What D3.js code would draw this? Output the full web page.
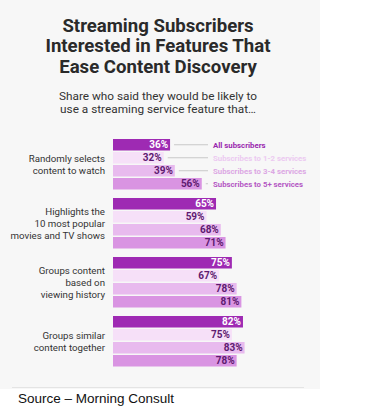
<!DOCTYPE html>
<html>
<head>
<meta charset="utf-8">
<script src="https://cdn.jsdelivr.net/npm/d3@7"></script>
<style>
  body { margin: 0; background: #fff; }
  #chart { width: 367px; height: 413px; }
</style>
</head>
<body>
<div id="chart"></div>
<script>

// data
const categories = [
	["Randomly selects", "content to watch"],
	["Highlights the", "10 most popular", "movies and TV shows"],
	["Groups content", "based on", "viewing history"],
	["Groups similar", "content together"]
];
const seriesNames = ["All subscribers", "Subscribes to 1-2 services", "Subscribes to 3-4 services", "Subscribes to 5+ services"];
const allSubs = [36, 65, 75, 82];
const subs12 = [32, 59, 67, 75];
const subs34 = [39, 68, 78, 83];
const subs5 = [56, 71, 81, 78];

const barColors = ["#9e2ab3", "#f6e0f8", "#e8baee", "#d994e2"];
const legendColors = ["#9a27ae", "#eccaf1", "#dca8e4", "#b458c4"];

const width = 367;
const height = 413;

let svg = d3.select("#chart")
	.append("svg")
	.attr("width", width)
	.attr("height", height);

//light panel
svg.append("rect")
	.attr("x", 0).attr("y", 0)
	.attr("width", 320).attr("height", 389)
	.attr("fill", "#f7f7f7");

svg.append("line")
	.attr("x1", 12).attr("x2", 304)
	.attr("y1", 387.5).attr("y2", 387.5)
	.attr("stroke", "#e4e4e4")
	.attr("stroke-width", 1);

//title
const titleLines = ["Streaming Subscribers", "Interested in Features That", "Ease Content Discovery"];
svg.append("text")
	.attr("text-anchor", "middle")
	.attr("font-family", "Roboto")
	.attr("font-weight", "bold")
	.attr("font-size", 18.6)
	.attr("fill", "#2a2a2a")
	.selectAll("tspan")
	.data(titleLines)
	.enter().append("tspan")
	.attr("x", 158)
	.attr("y", (d, i) => 32 + i * 20.3)
	.text(d => d);

const subLines = ["Share who said they would be likely to", "use a streaming service feature that…"];
svg.append("text")
	.attr("text-anchor", "middle")
	.attr("font-family", "Roboto")
	.attr("font-size", 11.8)
	.attr("fill", "#333")
	.selectAll("tspan")
	.data(subLines)
	.enter().append("tspan")
	.attr("x", 158)
	.attr("y", (d, i) => 100 + i * 12.6)
	.text(d => d);

//scales
let x = d3.scaleLinear()
	.domain([0, 100])
	.range([113, 113 + 158.5]);

let y0 = d3.scaleBand()
	.domain(d3.range(categories.length))
	.range([139, 139 + 59 * categories.length]);

let y1 = d3.scaleBand()
	.domain(d3.range(seriesNames.length))
	.range([0, 50.5])
	.paddingInner(0.115);

const series = [allSubs, subs12, subs34, subs5];

let rows = [];
categories.forEach((c, gi) => {
	series.forEach((s, si) => {
		rows.push({ g: gi, s: si, v: s[gi] });
	});
});

let bars = svg.append("g");

bars.selectAll("rect")
	.data(rows)
	.enter().append("rect")
	.attr("x", x(0))
	.attr("y", d => y0(d.g) + y1(d.s))
	.attr("width", d => x(d.v) - x(0))
	.attr("height", y1.bandwidth())
	.attr("fill", d => barColors[d.s]);

bars.selectAll("text")
	.data(rows)
	.enter().append("text")
	.attr("x", d => x(d.v) - 2)
	.attr("y", d => y0(d.g) + y1(d.s) + y1.bandwidth() / 2 + 3.5)
	.attr("text-anchor", "end")
	.attr("font-family", "Roboto")
	.attr("font-weight", "bold")
	.attr("font-size", 10)
	.attr("fill", d => d.s == 0 ? "#fff" : "#5e1a70")
	.text(d => d.v + "%");

//legend on first group
let legend = svg.append("g");
let first = rows.filter(d => d.g == 0);

legend.selectAll("line")
	.data(first)
	.enter().append("line")
	.attr("x1", d => x(d.v) + 4)
	.attr("x2", 208)
	.attr("y1", d => y0(0) + y1(d.s) + y1.bandwidth() / 2)
	.attr("y2", d => y0(0) + y1(d.s) + y1.bandwidth() / 2)
	.attr("stroke", "#c8c8c8")
	.attr("stroke-width", 1);

legend.selectAll("text")
	.data(first)
	.enter().append("text")
	.attr("x", 213)
	.attr("y", d => y0(0) + y1(d.s) + y1.bandwidth() / 2 + 3)
	.attr("font-family", "Roboto")
	.attr("font-weight", "bold")
	.attr("font-size", 7.8)
	.attr("fill", d => legendColors[d.s])
	.text(d => seriesNames[d.s]);

//category labels
let cats = svg.append("g");
cats.selectAll("text")
	.data(categories)
	.enter().append("text")
	.attr("text-anchor", "end")
	.attr("font-family", "Roboto")
	.attr("font-size", 9.7)
	.attr("fill", "#333")
	.each(function(d, i){
		let mid = y0(i) + 50.5 / 2;
		d3.select(this).selectAll("tspan")
			.data(d)
			.enter().append("tspan")
			.attr("x", 105)
			.attr("y", (t, j) => mid + 3.5 + (j - (d.length - 1) / 2) * 12)
			.text(t => t);
	});

//source
svg.append("text")
	.attr("x", 18)
	.attr("y", 403)
	.attr("font-family", "Liberation Sans, Arial")
	.attr("font-size", 13.5)
	.attr("fill", "#111")
	.text("Source – Morning Consult");

</script>
</body>
</html>
